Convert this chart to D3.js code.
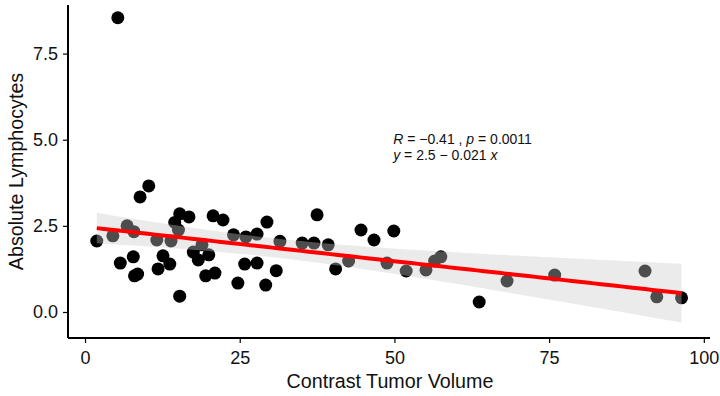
<!DOCTYPE html>
<html>
<head>
<meta charset="utf-8">
<script src="https://cdn.jsdelivr.net/npm/d3@7"></script>
<style>
  body { margin: 0; background: #fff; }
  svg { display: block; font-family: "Liberation Sans", Arial, sans-serif; }
</style>
</head>
<body>
<svg id="chart" width="720" height="396"></svg>
<script>
// tumor volume vs lymphocytes
const tumorVolume = [
  1.9, 4.5, 5.3, 5.7, 6.8, 7.9, 7.8, 8.0, 8.5, 8.9,
  10.3, 11.6, 11.8, 12.6, 13.7, 13.9, 14.5, 15.1, 15.3, 15.3,
  16.8, 17.5, 18.3, 18.9, 20.0, 19.5, 21.0, 20.7, 22.3, 24.0,
  24.7, 25.8, 26.0, 27.8, 27.8, 29.4, 29.2, 30.9, 31.5, 35.1,
  37.0, 37.5, 39.3, 40.5, 42.6, 44.6, 46.7, 48.8, 49.9, 51.9,
  55.1, 56.5, 57.5, 63.7, 68.2, 75.9, 90.5, 92.4, 96.4
];
const lymphocytes = [
  2.06, 2.21, 8.54, 1.42, 2.5, 2.33, 1.6, 1.05, 1.1, 3.34,
  3.66, 2.09, 1.25, 1.63, 1.39, 2.06, 2.6, 2.38, 2.85, 0.46,
  2.76, 1.74, 1.51, 1.95, 1.66, 1.05, 1.13, 2.79, 2.67, 2.24,
  0.84, 1.39, 2.18, 2.26, 1.42, 2.61, 0.78, 1.2, 2.05, 2.0,
  2.0, 2.82, 1.95, 1.25, 1.48, 2.38, 2.09, 1.42, 2.35, 1.19,
  1.22, 1.48, 1.6, 0.29, 0.9, 1.07, 1.19, 0.44, 0.41
];
const xTicks = [0, 25, 50, 75, 100];
const yTicks = [0, 2.5, 5, 7.5];

const svg = d3.select("#chart");
const padL = 68, padR = 710, padT = 5, padB = 338;

const x = d3.scaleLinear().domain([-2.75, 101]).range([padL, padR]);
const y = d3.scaleLinear().domain([-0.755, 8.91]).range([padB, padT]);

const pts = tumorVolume.map((v, i) => ({ x: v, y: lymphocytes[i] }));

// linear fit + 95% confidence band
const n = pts.length;
const mx = d3.mean(pts, d => d.x), my = d3.mean(pts, d => d.y);
const sxx = d3.sum(pts, d => (d.x - mx) ** 2);
const sxy = d3.sum(pts, d => (d.x - mx) * (d.y - my));
const slope = sxy / sxx;
const icpt = my - slope * mx;
const sse = d3.sum(pts, d => (d.y - icpt - slope * d.x) ** 2);
const se = Math.sqrt(sse / (n - 2));
const tq = 2.002;
const [x0, x1] = d3.extent(pts, d => d.x);
const grid = d3.range(0, 81).map(i => x0 + (x1 - x0) * i / 80);
const band = grid.map(g => {
  const fit = icpt + slope * g;
  const w = tq * se * Math.sqrt(1 / n + (g - mx) ** 2 / sxx);
  return { x: g, fit, lo: fit - w, hi: fit + w };
});

// points
svg.append("g")
  .selectAll("circle")
  .data(pts)
  .enter()
  .append("circle")
  .attr("cx", d => x(d.x))
  .attr("cy", d => y(d.y))
  .attr("r", 6.5)
  .attr("fill", "#000");

// ribbon drawn over the points, like ggplot
svg.append("path")
  .datum(band)
  .attr("d", d3.area().x(d => x(d.x)).y0(d => y(d.lo)).y1(d => y(d.hi)))
  .attr("fill", "#cbcbcb")
  .attr("opacity", 0.38);

svg.append("path")
  .datum(band)
  .attr("d", d3.line().x(d => x(d.x)).y(d => y(d.fit)))
  .attr("fill", "none")
  .attr("stroke", "#ff0000")
  .attr("stroke-width", 4);

// axes
const xAxis = svg.append("g")
  .attr("transform", `translate(0,${padB})`)
  .call(d3.axisBottom(x).tickValues(xTicks).tickSize(5).tickPadding(8).tickFormat(d3.format("d")));
const yAxis = svg.append("g")
  .attr("transform", `translate(${padL},0)`)
  .call(d3.axisLeft(y).tickValues(yTicks).tickSize(5).tickPadding(5).tickFormat(d3.format(".1f")));

[xAxis, yAxis].forEach(g => {
  g.attr("font-size", null).attr("font-family", null);
  g.select(".domain").attr("stroke", "#000").attr("stroke-width", 2);
  g.selectAll(".tick line").attr("stroke", "#000").attr("stroke-width", 1.2);
  g.selectAll(".tick text").attr("fill", "#111").style("font-size", "18px");
});
xAxis.select(".domain").attr("d", `M${padL},0H${padR}`);
yAxis.select(".domain").attr("d", `M0,${padT}V${padB}`);

// axis titles
svg.append("text")
  .attr("x", 390)
  .attr("y", 388)
  .attr("text-anchor", "middle")
  .style("font-size", "19.7px")
  .attr("fill", "#111")
  .text("Contrast Tumor Volume");

svg.append("text")
  .attr("transform", `translate(23,${(padT + padB) / 2}) rotate(-90)`)
  .attr("text-anchor", "middle")
  .style("font-size", "19.7px")
  .attr("fill", "#111")
  .text("Absolute Lymphocytes");

// stat annotation
const ann = svg.append("g").style("font-size", "14px").attr("fill", "#111");
const l1 = ann.append("text").attr("x", x(49.8)).attr("y", y(4.88));
l1.append("tspan").attr("font-style", "italic").text("R");
l1.append("tspan").text(" = \u22120.41 , ");
l1.append("tspan").attr("font-style", "italic").text("p");
l1.append("tspan").text(" = 0.0011");
const l2 = ann.append("text").attr("x", x(49.8)).attr("y", y(4.41));
l2.append("tspan").attr("font-style", "italic").text("y");
l2.append("tspan").text(" = 2.5 \u2212 0.021 ");
l2.append("tspan").attr("font-style", "italic").text("x");
</script>
</body>
</html>
